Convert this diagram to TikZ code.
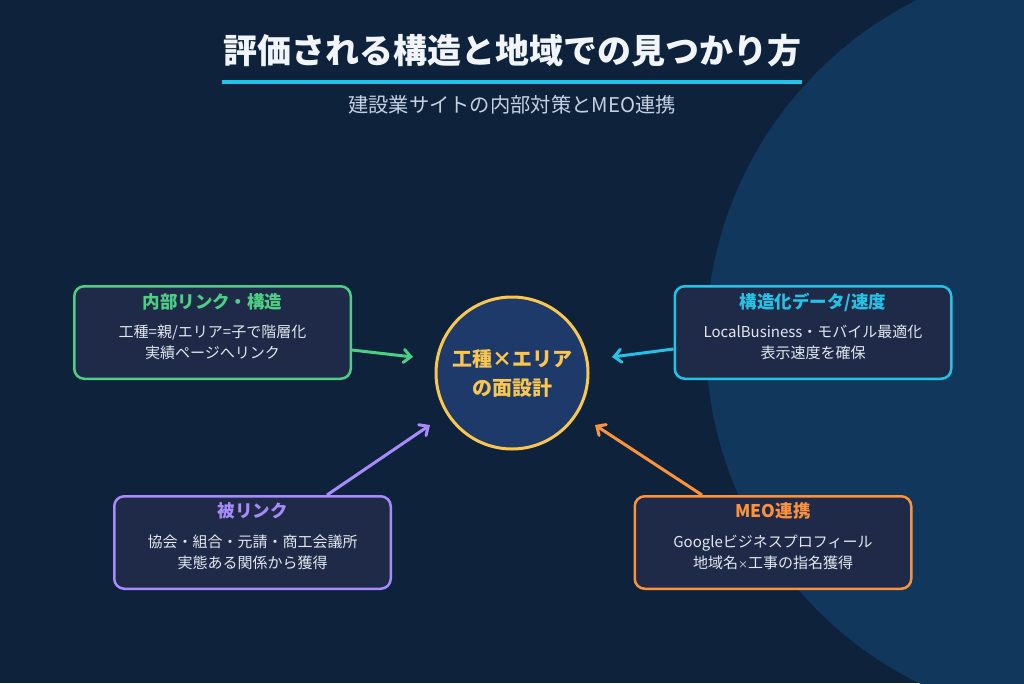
\documentclass[tikz,border=0pt]{standalone}
\usepackage{fontspec}
\setmainfont{Noto Sans CJK JP}
\usetikzlibrary{arrows.meta,calc}
\definecolor{bg}{HTML}{0E223B}
\definecolor{bigc}{HTML}{12375C}
\definecolor{boxfill}{HTML}{1F2A48}
\definecolor{greenc}{HTML}{4CCF85}
\definecolor{cyanc}{HTML}{22C3E6}
\definecolor{purplec}{HTML}{A78BFA}
\definecolor{orangec}{HTML}{FB923C}
\definecolor{yellowc}{HTML}{F9C74F}
\definecolor{centerfill}{HTML}{1E3A6A}
\definecolor{titlec}{HTML}{F1F5F9}
\definecolor{subc}{HTML}{C5D1E3}
\definecolor{bodyc}{HTML}{E2E8F0}
\begin{document}
\begin{tikzpicture}[x=1pt,y=-1pt,
  box/.style={draw=#1, line width=2.5pt, rounded corners=10pt, fill=boxfill,
    minimum width=276.5pt, minimum height=92.5pt, inner sep=0pt},
  boxtitle/.style={text=#1, font=\bfseries\fontsize{17.5}{21}\selectfont, inner sep=0pt},
  boxbody/.style={text=bodyc, font=\fontsize{15}{21}\selectfont, align=center, inner sep=0pt},
  conn/.style={draw=#1, line width=3pt, line join=round,
    -{Straight Barb[length=7pt,width=13pt,line cap=round]}},
]
\fill[bg] (0,0) rectangle (1024,683);
\begin{scope}
  \clip (0,0) rectangle (1024,683);
  \fill[bigc] (1087,341) circle[radius=381];
\end{scope}
\useasboundingbox (0,0) rectangle (1024,683);

% title
\node[text=titlec, font=\bfseries\fontsize{34}{40}\selectfont, inner sep=0pt] (title) at (512,51) {評価される構造と地域での見つかり方};
\draw[cyanc, line width=4pt] (222,82) -- (802,82);
\node[text=subc, font=\fontsize{20.3}{24}\selectfont, inner sep=0pt] (sub) at (512,105) {建設業サイトの内部対策とMEO連携};

% center
\node[circle, draw=yellowc, line width=3pt, fill=centerfill, minimum size=152pt,
  inner sep=0pt, text=yellowc, align=center,
  font=\bfseries\fontsize{20}{29}\selectfont] (c) at (512,373) {工種×エリア\\の面設計};

% boxes
\node[box=greenc] (g) at (212.5,332.5) {};
\node[boxtitle=greenc] (gt) at (212.5,302) {内部リンク・構造};
\node[boxbody] (gb) at (212.5,342.5) {工種=親/エリア=子で階層化\\実績ページへリンク};

\node[box=cyanc] (s) at (813,332.5) {};
\node[boxtitle=cyanc] (st) at (813,302) {構造化データ/速度};
\node[boxbody] (sb) at (813,342.5) {LocalBusiness・モバイル最適化\\表示速度を確保};

\node[box=purplec] (p) at (252.5,542.5) {};
\node[boxtitle=purplec] (pt) at (252.5,511) {被リンク};
\node[boxbody] (pb) at (252.5,552.5) {協会・組合・元請・商工会議所\\実態ある関係から獲得};

\node[box=orangec] (o) at (773,542.5) {};
\node[boxtitle=orangec] (ot) at (773,511) {MEO連携};
\node[boxbody] (ob) at (773,552.5) {Googleビジネスプロフィール\\地域名{\fontsize{10}{21}\selectfont ×}工事の指名獲得};

% arrow tips
\coordinate (gtip) at (413,357);
\coordinate (stip) at (612,357);
\coordinate (ptip) at (430,425);
\coordinate (otip) at (595,425);

\draw[conn=greenc] ($(g.east)+(0,17.5)$) -- (gtip);
\draw[conn=cyanc] ($(s.west)+(0,16.5)$) -- (stip);
\draw[conn=purplec] ($(p.north)+(74.5,0)$) -- (ptip);
\draw[conn=orangec] ($(o.north)+(-71,0)$) -- (otip);
\end{tikzpicture}
\end{document}
